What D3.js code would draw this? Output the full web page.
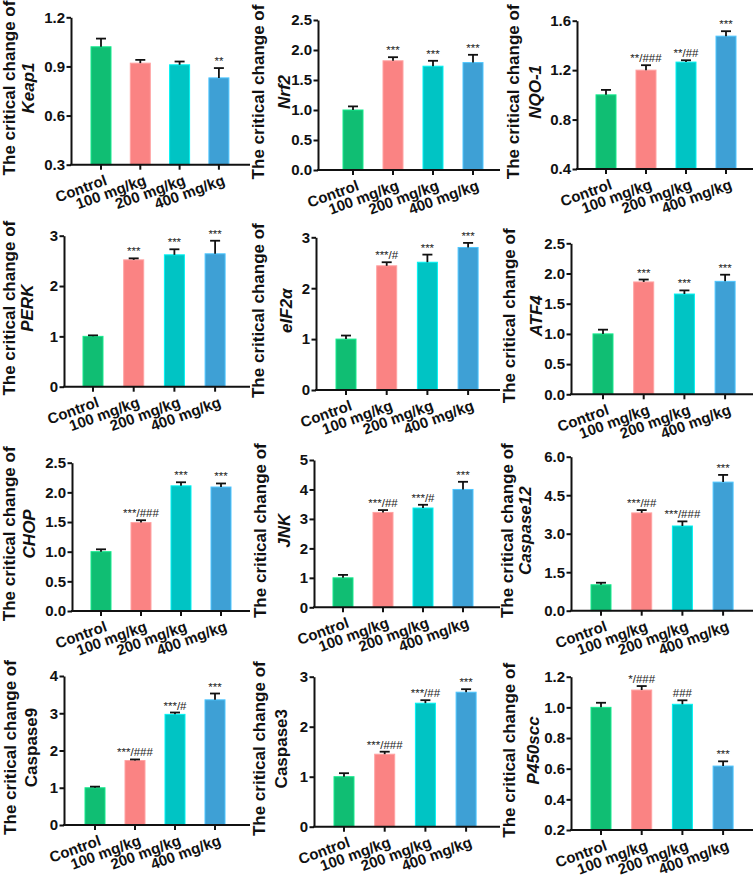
<!DOCTYPE html>
<html>
<head>
<meta charset="utf-8">
<script src="https://cdnjs.cloudflare.com/ajax/libs/d3/7.8.5/d3.min.js"></script>
<style>
	body { margin: 0; background: #fff; }
	text { font-family: "Liberation Sans", Arial, sans-serif; }
</style>
</head>
<body>
<div id="vis"></div>
<script>
//###########################################################################
//#                               Data                                      #
//###########################################################################

var groups = ["Control", "100 mg/kg", "200 mg/kg", "400 mg/kg"];
var groupColors = ["#10be73", "#fa8383", "#00c4c4", "#3ea0d5"];

var genes = ["Keap1", "Nrf2", "NQO-1", "PERK", "eIF2\u03b1", "ATF4",
			 "CHOP", "JNK", "Caspase12", "Caspase9", "Caspase3", "P450scc"];
var geneItalic = [true, true, true, true, true, true, true, true, true, false, false, true];

//mean values (Control, 100, 200, 400 mg/kg)
var means = [
	[1.02, 0.92, 0.91, 0.83],
	[1.00, 1.82, 1.73, 1.79],
	[1.00, 1.20, 1.265, 1.475],
	[1.00, 2.52, 2.62, 2.64],
	[1.00, 2.44, 2.51, 2.80],
	[1.00, 1.86, 1.66, 1.87],
	[1.00, 1.49, 2.11, 2.09],
	[1.00, 3.22, 3.37, 4.00],
	[1.01, 3.81, 3.30, 5.01],
	[1.00, 1.73, 2.97, 3.36],
	[1.00, 1.45, 2.47, 2.69],
	[1.00, 1.113, 1.02, 0.617]
];

//upper error bar (SEM)
var errors = [
	[0.05, 0.02, 0.02, 0.06],
	[0.06, 0.06, 0.09, 0.13],
	[0.04, 0.04, 0.015, 0.04],
	[0.02, 0.03, 0.11, 0.26],
	[0.07, 0.07, 0.15, 0.09],
	[0.07, 0.04, 0.06, 0.11],
	[0.04, 0.04, 0.06, 0.06],
	[0.10, 0.08, 0.11, 0.26],
	[0.08, 0.11, 0.18, 0.28],
	[0.03, 0.03, 0.05, 0.17],
	[0.07, 0.05, 0.06, 0.06],
	[0.03, 0.026, 0.026, 0.031]
];

var sigLabels = [
	["", "", "", "**"],
	["", "***", "***", "***"],
	["", "**/###", "**/##", "***"],
	["", "***", "***", "***"],
	["", "***/#", "***", "***"],
	["", "***", "***", "***"],
	["", "***/###", "***", "***"],
	["", "***/##", "***/#", "***"],
	["", "***/##", "***/###", "***"],
	["", "***/###", "***/#", "***"],
	["", "***/###", "***/##", "***"],
	["", "*/###", "###", "***"]
];

var yDomains = [[0.3, 1.2], [0, 2.5], [0.4, 1.6], [0, 3], [0, 3], [0, 2.5],
				[0, 2.5], [0, 5], [0, 6], [0, 4], [0, 3], [0.2, 1.2]];
var yTicks = [
	[0.3, 0.6, 0.9, 1.2],
	[0, 0.5, 1.0, 1.5, 2.0, 2.5],
	[0.4, 0.8, 1.2, 1.6],
	[0, 1, 2, 3],
	[0, 1, 2, 3],
	[0, 0.5, 1.0, 1.5, 2.0, 2.5],
	[0, 0.5, 1.0, 1.5, 2.0, 2.5],
	[0, 1, 2, 3, 4, 5],
	[0, 1.5, 3.0, 4.5, 6.0],
	[0, 1, 2, 3, 4],
	[0, 1, 2, 3],
	[0.2, 0.4, 0.6, 0.8, 1.0, 1.2]
];
var yFormats = [".1f", ".1f", ".1f", "d", "d", ".1f", ".1f", "d", ".1f", "d", "d", ".1f"];

//###########################################################################
//#                              Layout                                     #
//###########################################################################

//axisX, plot top, plot bottom, first bar centre, bar step, x axis end, title line x
var layout = [
	{ax: 71,  top: 17.3,  bot: 164.7, first: 101, step: 39.3, right: 250, t1: 15,  t2: 34},
	{ax: 318, top: 20,    bot: 170,   first: 353, step: 40,   right: 500, t1: 264, t2: 290},
	{ax: 577, top: 20.7,  bot: 169,   first: 606, step: 40,   right: 753, t1: 519, t2: 541},
	{ax: 64,  top: 235.7, bot: 386.7, first: 93,  step: 40.7, right: 250, t1: 15,  t2: 33},
	{ax: 316, top: 237.3, bot: 390,   first: 346, step: 40.7, right: 500, t1: 264, t2: 292},
	{ax: 571, top: 243.3, bot: 394.3, first: 603, step: 40.7, right: 753, t1: 515, t2: 542},
	{ax: 72,  top: 462.7, bot: 611,   first: 101, step: 40,   right: 250, t1: 15,  t2: 35},
	{ax: 314, top: 460,   bot: 607.3, first: 343, step: 40,   right: 500, t1: 266, t2: 290},
	{ax: 571, top: 456.7, bot: 610.7, first: 601, step: 40.7, right: 753, t1: 513, t2: 531},
	{ax: 64,  top: 676,   bot: 825,   first: 95,  step: 40,   right: 250, t1: 16,  t2: 37},
	{ax: 314, top: 676.7, bot: 826.7, first: 344, step: 40.7, right: 500, t1: 265, t2: 287},
	{ax: 571, top: 676.7, bot: 830,   first: 601, step: 40.7, right: 753, t1: 515, t2: 539}
];

var width = 753;
var height = 876;
var barWidth = 20;
var capWidth = 10;

var svg = d3.select("#vis").append("svg")
	.attr("width", width)
	.attr("height", height)
	.style("background", "#fff");

for (var i = 0; i < genes.length; i++) {
	drawPanel(i);
}

//###########################################################################
//#                          Panel drawing                                  #
//###########################################################################

function drawPanel(i) {
	var L = layout[i];
	var g = svg.append("g").attr("class", "panel");

	var xscale = d3.scalePoint().domain(groups).range([L.first, L.first + 3 * L.step]);
	var yscale = d3.scaleLinear().domain(yDomains[i]).range([L.bot, L.top]);

	var rows = groups.map(function(name, k) {
		return {group: name, mean: means[i][k], err: errors[i][k], sig: sigLabels[i][k], color: groupColors[k]};
	});

	//bars
	g.selectAll("rect.bar")
		.data(rows).enter().append("rect")
		.attr("class", "bar")
		.attr("x", function(d) { return xscale(d.group) - barWidth / 2; })
		.attr("y", function(d) { return yscale(d.mean); })
		.attr("width", barWidth)
		.attr("height", function(d) { return L.bot - yscale(d.mean); })
		.attr("fill", function(d) { return d.color; })
		.attr("stroke", function(d) { return d3.color(d.color).brighter(0.6); })
		.attr("stroke-width", 1);

	//upper error bars
	var eb = g.selectAll("g.err").data(rows).enter().append("g").attr("class", "err")
		.attr("stroke", "#111").attr("stroke-width", 1.8);
	eb.append("line")
		.attr("x1", function(d) { return xscale(d.group); })
		.attr("x2", function(d) { return xscale(d.group); })
		.attr("y1", function(d) { return yscale(d.mean); })
		.attr("y2", function(d) { return yscale(d.mean + d.err); });
	eb.append("line")
		.attr("x1", function(d) { return xscale(d.group) - capWidth / 2; })
		.attr("x2", function(d) { return xscale(d.group) + capWidth / 2; })
		.attr("y1", function(d) { return yscale(d.mean + d.err); })
		.attr("y2", function(d) { return yscale(d.mean + d.err); });

	//significance marks
	g.selectAll("text.sig").data(rows).enter().append("text")
		.attr("class", "sig")
		.attr("x", function(d) { return xscale(d.group); })
		.attr("y", function(d) { return yscale(d.mean + d.err) - 3; })
		.attr("text-anchor", "middle")
		.attr("font-size", 11.5)
		.attr("fill", "#222")
		.text(function(d) { return d.sig; });

	//y axis
	var yaxis = d3.axisLeft(yscale).tickValues(yTicks[i]).tickFormat(d3.format(yFormats[i]))
		.tickSize(4.5).tickPadding(1.5).tickSizeOuter(0);
	var ya = g.append("g").attr("transform", "translate(" + L.ax + ",0)").call(yaxis);
	ya.select(".domain").attr("stroke", "#111").attr("stroke-width", 2);
	ya.selectAll(".tick line").attr("stroke", "#111").attr("stroke-width", 2);
	ya.selectAll(".tick text").attr("font-size", 15).attr("font-weight", "bold")
		.attr("fill", "#111").attr("font-family", "Liberation Sans, Arial, sans-serif");

	//x axis: baseline + ticks under each bar
	g.append("line")
		.attr("x1", L.ax - 1).attr("x2", L.right)
		.attr("y1", L.bot).attr("y2", L.bot)
		.attr("stroke", "#111").attr("stroke-width", 2);
	g.selectAll("line.xtick").data(groups).enter().append("line")
		.attr("class", "xtick")
		.attr("x1", function(d) { return xscale(d); })
		.attr("x2", function(d) { return xscale(d); })
		.attr("y1", L.bot).attr("y2", L.bot + 5)
		.attr("stroke", "#111").attr("stroke-width", 2);
	g.selectAll("text.xlab").data(groups).enter().append("text")
		.attr("class", "xlab")
		.attr("transform", function(d) { return "translate(" + (xscale(d) + 3) + "," + (L.bot + 9) + ") rotate(-20)"; })
		.attr("text-anchor", "end")
		.attr("dy", "0.75em")
		.attr("font-size", 15)
		.attr("font-weight", "bold")
		.attr("fill", "#111")
		.text(function(d) { return d; });

	//y title (two lines)
	var cy = (L.top + L.bot) / 2 - 3;
	g.append("text")
		.attr("transform", "translate(" + L.t1 + "," + cy + ") rotate(-90)")
		.attr("text-anchor", "middle")
		.attr("font-size", 17)
		.attr("font-weight", "bold")
		.attr("fill", "#111")
		.text("The critical change of");
	g.append("text")
		.attr("transform", "translate(" + L.t2 + "," + cy + ") rotate(-90)")
		.attr("text-anchor", "middle")
		.attr("font-size", 17)
		.attr("font-weight", "bold")
		.attr("font-style", geneItalic[i] ? "italic" : "normal")
		.attr("fill", "#111")
		.text(genes[i]);
}
</script>
</body>
</html>
